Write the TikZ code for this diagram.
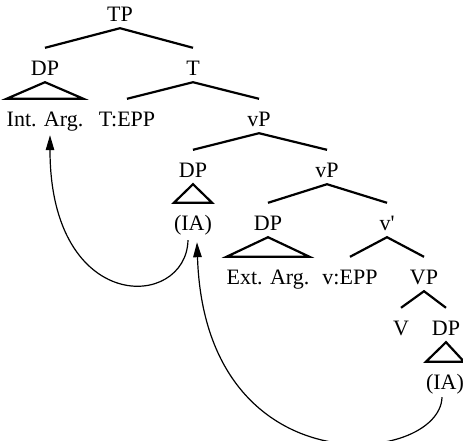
\documentclass[tikz,border=0pt]{standalone}
\usepackage{fontspec}
\setmainfont{Liberation Serif}
\usetikzlibrary{arrows.meta,calc}
\begin{document}
\begin{tikzpicture}[x=1pt,y=-1pt,
  lbl/.style={anchor=base,inner xsep=0pt,inner ysep=0pt,text height=27pt,text depth=7pt,
    font=\fontsize{22}{26}\selectfont},
  branch/.style={line width=2.2pt,line join=miter},
  move/.style={line width=1.2pt,-{Triangle[length=15pt,width=8.5pt]}}]
\useasboundingbox (0,0) rectangle (463,440);

% labels, level by level
\node[lbl] (tp)     at (120,21)  {TP};
\node[lbl] (dpa)    at (45,75)   {DP};
\node[lbl] (t)      at (193,75)  {T};
\node[lbl] (intarg) at (45,126)  {Int. Arg.};
\node[lbl] (tepp)   at (127,126) {T:EPP};
\node[lbl] (vpa)    at (259,126) {vP};
\node[lbl] (dpb)    at (193,177) {DP};
\node[lbl] (vpb)    at (327,177) {vP};
\node[lbl] (iaa)    at (193,230) {(IA)};
\node[lbl] (dpc)    at (268,230) {DP};
\node[lbl] (vbar)   at (387,230) {v\textquotesingle};
\node[lbl] (extarg) at (268,284) {Ext. Arg.};
\node[lbl] (vepp)   at (350,284) {v:EPP};
\node[lbl] (vpc)    at (424,284) {VP};
\node[lbl] (v)      at (401,335) {V};
\node[lbl] (dpd)    at (446,335) {DP};
\node[lbl] (iab)    at (445,389) {(IA)};

% branches
\draw[branch] (dpa.north) -- (tp.south) -- (t.north);
\draw[branch] (tepp.north) -- (t.south) -- (vpa.north);
\draw[branch] (dpb.north) -- (vpa.south) -- (vpb.north);
\draw[branch] (dpc.north) -- (vpb.south) -- (vbar.north);
\draw[branch] (vepp.north) -- (vbar.south) -- (vpc.north);
\draw[branch] (v.north) -- (vpc.south) -- (dpd.north);

% triangles over unanalysed phrases
\draw[branch] (intarg.north west) -- (dpa.south) -- (intarg.north east) -- cycle;
\draw[branch] (iaa.north west) -- (dpb.south) -- (iaa.north east) -- cycle;
\draw[branch] (extarg.north west) -- (dpc.south) -- (extarg.north east) -- cycle;
\draw[branch] (iab.north west) -- (dpd.south) -- (iab.north east) -- cycle;

% movement arrows
\draw[move] ($(iaa.south)+(-5,3)$) .. controls +(-2,70) and +(0,180) .. ($(intarg.south)+(5,2)$);
\draw[move] ($(iab.south)+(-3,1)$) .. controls +(-2,68) and +(8,248) .. ($(iaa.south)+(4,5)$);
\end{tikzpicture}
\end{document}
